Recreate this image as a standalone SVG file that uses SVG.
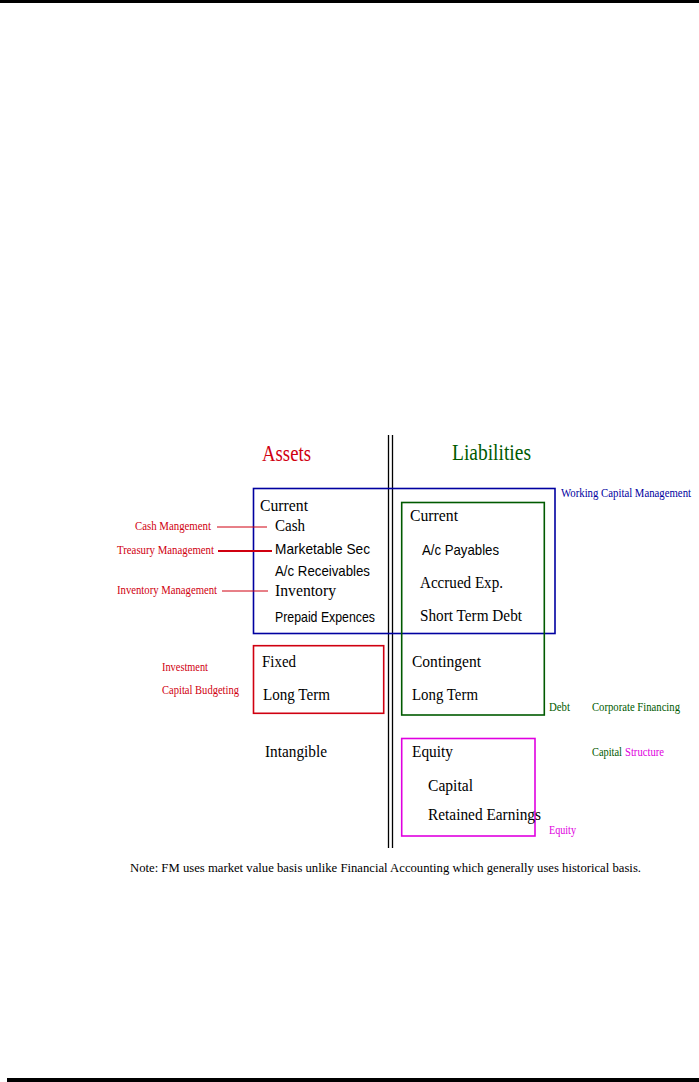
<svg xmlns="http://www.w3.org/2000/svg" width="699" height="1082" viewBox="0 0 699 1082">
<style>
.t{font-family:"Liberation Serif","Times New Roman",serif;font-size:17px;fill:#000}
.s{font-family:"Liberation Sans",Arial,sans-serif;font-size:15px;fill:#000}
.h{font-family:"Liberation Serif","Times New Roman",serif;font-size:24px}
.n{font-family:"Liberation Serif","Times New Roman",serif;font-size:12px}
.red{fill:#d00010}.grn{fill:#005a00}.blu{fill:#0000a0}.mag{fill:#e000e0}
.box{fill:none;stroke-width:1.6}
</style>
<rect x="0" y="0" width="699" height="3" fill="#000"/>
<rect x="7" y="1078" width="692" height="4" fill="#000"/>
<g id="divider">
<line x1="388.5" y1="435" x2="388.5" y2="848" stroke="#000" stroke-width="1.3"/>
<line x1="392.5" y1="435" x2="392.5" y2="848" stroke="#000" stroke-width="1.3"/>
</g>
<text class="h red" x="262" y="461" textLength="49" lengthAdjust="spacingAndGlyphs">Assets</text>
<text class="h grn" x="452" y="460" textLength="79" lengthAdjust="spacingAndGlyphs">Liabilities</text>
<g id="working-capital">
<rect class="box" x="253.5" y="488.5" width="301.5" height="145" stroke="#0000a0"/>
<text class="n blu" x="561" y="497" font-size="10.2" textLength="130" lengthAdjust="spacingAndGlyphs">Working Capital Management</text>
</g>
<g id="current-assets">
<text class="t" x="260" y="511" textLength="48" lengthAdjust="spacingAndGlyphs">Current</text>
<text class="t" x="275" y="531" textLength="30" lengthAdjust="spacingAndGlyphs">Cash</text>
<text class="s" x="275" y="554" textLength="95" lengthAdjust="spacingAndGlyphs">Marketable Sec</text>
<text class="s" x="275" y="576" textLength="95" lengthAdjust="spacingAndGlyphs">A/c Receivables</text>
<text class="t" x="275" y="596" textLength="61" lengthAdjust="spacingAndGlyphs">Inventory</text>
<text class="s" x="275" y="622" textLength="100" lengthAdjust="spacingAndGlyphs">Prepaid Expences</text>
</g>
<g id="mgmt-labels">
<text class="n red" x="135" y="530" textLength="76" lengthAdjust="spacingAndGlyphs">Cash Mangement</text>
<text class="n red" x="117" y="554" textLength="97" lengthAdjust="spacingAndGlyphs">Treasury Management</text>
<text class="n red" x="117" y="594" textLength="100" lengthAdjust="spacingAndGlyphs">Inventory Management</text>
</g>
<g id="connectors" stroke="#d00010">
<line x1="217" y1="527" x2="267" y2="527" stroke-width="1"/>
<line x1="218" y1="551" x2="272" y2="551" stroke-width="2"/>
<line x1="222" y1="591" x2="268" y2="591" stroke-width="1"/>
</g>
<g id="debt">
<rect class="box" x="401.7" y="502.5" width="142.6" height="212.5" stroke="#005a00"/>
<text class="t" x="410" y="521" textLength="48" lengthAdjust="spacingAndGlyphs">Current</text>
<text class="s" x="422" y="555" textLength="77" lengthAdjust="spacingAndGlyphs">A/c  Payables</text>
<text class="t" x="420" y="588" textLength="83" lengthAdjust="spacingAndGlyphs">Accrued Exp.</text>
<text class="t" x="420" y="621" textLength="102" lengthAdjust="spacingAndGlyphs">Short Term Debt</text>
<text class="t" x="412" y="667" textLength="69" lengthAdjust="spacingAndGlyphs">Contingent</text>
<text class="t" x="412" y="700" textLength="66" lengthAdjust="spacingAndGlyphs">Long Term</text>
<text class="n grn" x="549" y="711" textLength="21" lengthAdjust="spacingAndGlyphs">Debt</text>
</g>
<text class="n grn" x="592" y="711" textLength="88" lengthAdjust="spacingAndGlyphs">Corporate Financing</text>
<g id="fixed-assets">
<rect class="box" x="253.5" y="645.7" width="130.2" height="67.6" stroke="#d00010"/>
<text class="t" x="262" y="667" textLength="34" lengthAdjust="spacingAndGlyphs">Fixed</text>
<text class="t" x="263" y="700" textLength="67" lengthAdjust="spacingAndGlyphs">Long Term</text>
</g>
<text class="n red" x="162" y="671" textLength="46" lengthAdjust="spacingAndGlyphs">Investment</text>
<text class="n red" x="162" y="694" textLength="77" lengthAdjust="spacingAndGlyphs">Capital Budgeting</text>
<g id="intangible">
<text class="t" x="265" y="757" textLength="62" lengthAdjust="spacingAndGlyphs">Intangible</text>
</g>
<g id="equity">
<rect class="box" x="401.7" y="738.5" width="133.3" height="97.5" stroke="#e000e0"/>
<text class="t" x="412" y="757" textLength="41" lengthAdjust="spacingAndGlyphs">Equity</text>
<text class="t" x="428" y="791" textLength="45" lengthAdjust="spacingAndGlyphs">Capital</text>
<text class="t" x="428" y="820" textLength="113" lengthAdjust="spacingAndGlyphs">Retained Earnings</text>
<text class="n mag" x="549" y="834" textLength="27" lengthAdjust="spacingAndGlyphs">Equity</text>
</g>
<text class="n grn" x="592" y="756" textLength="30" lengthAdjust="spacingAndGlyphs">Capital</text>
<text class="n mag" x="625" y="756" textLength="39" lengthAdjust="spacingAndGlyphs">Structure</text>
<text class="n" x="130" y="872" font-size="13" textLength="511" lengthAdjust="spacingAndGlyphs">Note: FM uses market value basis unlike Financial Accounting which generally uses historical basis.</text>
</svg>
